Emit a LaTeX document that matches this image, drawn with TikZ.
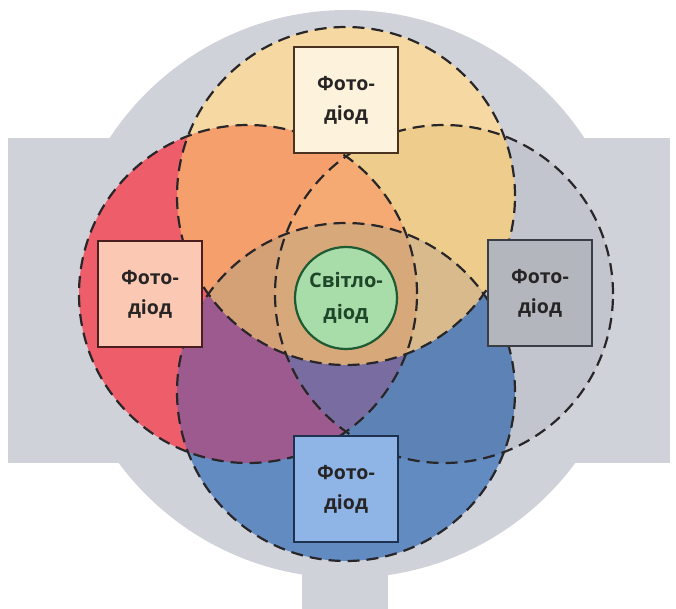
\documentclass[tikz,border=0pt]{standalone}
\usepackage{fontspec}
\setmainfont{Open Sans}
\definecolor{bggrey}{RGB}{208,210,217}
\definecolor{cTo}{RGB}{246,217,162}
\definecolor{cLo}{RGB}{238,94,106}
\definecolor{cRo}{RGB}{195,197,206}
\definecolor{cBo}{RGB}{98,139,194}
\definecolor{cTL}{RGB}{245,160,108}
\definecolor{cTR}{RGB}{237,204,140}
\definecolor{cBL}{RGB}{156,90,142}
\definecolor{cBR}{RGB}{92,130,182}
\definecolor{cTLR}{RGB}{244,170,114}
\definecolor{cBLR}{RGB}{120,108,160}
\definecolor{cTBL}{RGB}{212,160,118}
\definecolor{cTBR}{RGB}{216,186,140}
\definecolor{cTBLR}{RGB}{214,168,122}
\definecolor{dashc}{RGB}{40,38,40}
\definecolor{txt}{RGB}{38,36,36}
\definecolor{boxTfill}{RGB}{253,243,220}
\definecolor{boxTline}{RGB}{74,50,32}
\definecolor{boxLfill}{RGB}{251,200,180}
\definecolor{boxLline}{RGB}{74,30,30}
\definecolor{boxRfill}{RGB}{180,182,189}
\definecolor{boxRline}{RGB}{58,61,69}
\definecolor{boxBfill}{RGB}{143,180,230}
\definecolor{boxBline}{RGB}{30,50,80}
\definecolor{ledfill}{RGB}{168,220,168}
\definecolor{ledline}{RGB}{30,90,50}
\definecolor{ledtxt}{RGB}{30,70,40}
\def\circT{(346,196) circle[radius=169pt]}
\def\circB{(346,392) circle[radius=169pt]}
\def\circL{(248,294) circle[radius=169pt]}
\def\circR{(444,294) circle[radius=169pt]}
\begin{document}
\begin{tikzpicture}[x=1pt,y=-1pt,
  lamp/.style={dash pattern=on 12pt off 7pt, line width=2.2pt, draw=dashc},
  pdbox/.style={draw, line width=2.4pt, minimum width=104pt, minimum height=106pt,
    inner sep=0pt, align=center, font=\fontsize{19.5}{30}\selectfont\bfseries, text=txt},
  led/.style={circle, draw=ledline, fill=ledfill, line width=2.2pt, minimum size=102pt,
    inner sep=0pt, align=center, font=\fontsize{20}{32}\selectfont\bfseries, text=ledtxt}]
\useasboundingbox (0,0) rectangle (676,609);
% housing
\fill[bggrey] (8,138) rectangle (670,463);
\fill[bggrey] (347,294) circle[radius=284pt];
\fill[bggrey] (302,540) rectangle (388,609);
% single regions
\fill[cTo] \circT; \fill[cLo] \circL; \fill[cRo] \circR; \fill[cBo] \circB;
% pairs
\begin{scope}\clip \circT; \fill[cTL] \circL; \fill[cTR] \circR; \end{scope}
\begin{scope}\clip \circB; \fill[cBL] \circL; \fill[cBR] \circR; \end{scope}
% triples
\begin{scope}\clip \circT; \clip \circL; \fill[cTLR] \circR; \fill[cTBL] \circB; \end{scope}
\begin{scope}\clip \circB; \clip \circL; \fill[cBLR] \circR; \end{scope}
\begin{scope}\clip \circT; \clip \circR; \fill[cTBR] \circB; \end{scope}
\begin{scope}\clip \circT; \clip \circB; \clip \circL; \fill[cTBLR] \circR; \end{scope}
% dashed outlines
\draw[lamp] \circT; \draw[lamp] \circL; \draw[lamp] \circR; \draw[lamp] \circB;
% photodiodes
\node[pdbox, fill=boxTfill, draw=boxTline] (pdT) at (346,100) {Фото-\\діод};
\node[pdbox, fill=boxLfill, draw=boxLline] (pdL) at (150,294) {Фото-\\діод};
\node[pdbox, fill=boxRfill, draw=boxRline] (pdR) at (540,293) {Фото-\\діод};
\node[pdbox, fill=boxBfill, draw=boxBline] (pdB) at (346,489) {Фото-\\діод};
% LED
\node[led] (led) at (346,298) {Світло-\\діод};
\end{tikzpicture}
\end{document}
